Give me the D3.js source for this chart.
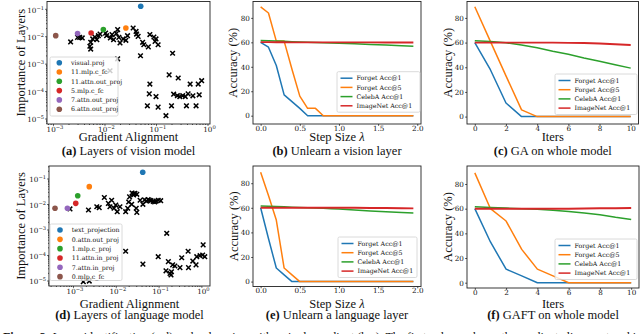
<!DOCTYPE html>
<html>
<head>
<meta charset="utf-8">
<script src="https://cdn.jsdelivr.net/npm/d3@7"></script>
<style>
body { margin: 0; background: #fff; }
svg { display: block; }
</style>
</head>
<body>
<svg width="640" height="334"></svg>
<script>
// ---- data ----
var visionLayers = ["visual.proj", "11.mlp.c_fc", "11.attn.out_proj", "5.mlp.c_fc", "7.attn.out_proj", "6.attn.out_proj"];
var visionTop = [[0.0505, 0.124], [0.026, 0.020], [0.0095, 0.0175], [0.0055, 0.0132], [0.003, 0.0125], [0.00113, 0.0105]];
var visionRest = [
	[2.2e-3, 6.2e-3], [3.0e-3, 9.1e-3], [3.3e-3, 9.1e-3], [3.7e-3, 8.7e-3], [5.4e-3, 6.0e-3], [5.2e-3, 4.3e-3],
	[5.4e-3, 3.4e-3], [5.9e-3, 8.0e-3], [6.5e-3, 9.4e-3], [7.1e-3, 7.5e-3], [7.6e-3, 1.05e-2], [8.2e-3, 1.2e-2],
	[1.05e-2, 1.3e-2], [1.1e-2, 1.05e-2], [1.3e-2, 8.7e-3], [1.4e-2, 1.15e-2], [1.5e-2, 7.5e-3], [1.7e-2, 1.25e-2],
	[1.8e-2, 1.75e-2], [1.9e-2, 9.1e-3], [2.0e-2, 5.7e-3], [2.3e-2, 8.0e-3], [2.6e-2, 7.1e-3], [2.8e-2, 1.05e-2],
	[3.6e-2, 2.0e-2], [4.1e-2, 1.5e-2], [4.2e-2, 1.2e-2], [4.5e-2, 9.9e-3], [5.5e-2, 6.0e-3], [5.8e-2, 4.9e-3],
	[7.1e-2, 4.1e-3], [7.6e-2, 1.15e-2], [9.1e-2, 9.4e-3], [0.1, 8.0e-3], [0.11, 4.9e-3], [9.6e-2, 6.5e-3],
	[1.8e-2, 1.5e-3], [5.0e-2, 1.95e-3], [0.21, 2.4e-3], [0.18, 3.9e-4], [0.27, 3.0e-4], [7.6e-2, 1.8e-4],
	[7.4e-2, 7.9e-5], [0.1, 6.3e-5], [6.8e-2, 2.9e-5], [0.11, 2.6e-5], [0.156, 1.27e-5], [0.2, 2.9e-5],
	[0.22, 7.7e-5], [0.26, 6.8e-5], [0.29, 6.3e-5], [0.33, 6.8e-5], [0.37, 6.3e-5], [0.42, 7.9e-5],
	[0.46, 1.8e-4], [0.39, 2.9e-5], [0.52, 6.7e-5], [0.6, 2.9e-5], [0.66, 1.8e-4], [0.69, 7.3e-5],
	[0.77, 2.4e-4], [1.28e-2, 5.5e-4]
];

var langLayers = ["text_projection", "0.attn.out_proj", "1.mlp.c_proj", "11.attn.in_proj", "7.attn.in_proj", "0.mlp.c_fc"];
var langTop = [[0.0426, 0.175], [2.4e-3, 0.048], [1.29e-3, 0.0211], [1.16e-3, 0.0106], [7.4e-4, 6.8e-3], [3.8e-4, 6.8e-3]];
var langRest = [
	[8.5e-4, 6.4e-3], [2.3e-3, 5.8e-3], [3.6e-3, 7.8e-3], [4.1e-3, 7.2e-3], [5.4e-3, 1.8e-2], [6.7e-3, 1.06e-2],
	[7.3e-3, 7.8e-3], [8.0e-3, 1.4e-2], [9.1e-3, 6.8e-3], [1.0e-2, 9.1e-3], [1.08e-2, 5.0e-3], [1.25e-2, 7.8e-3],
	[1.7e-2, 5.0e-3], [1.9e-2, 6.8e-3], [2.0e-2, 1.2e-2], [2.1e-2, 1.9e-2], [2.35e-2, 9.7e-3], [2.6e-2, 2.25e-2],
	[2.8e-2, 2.6e-2], [3.1e-2, 2.4e-2], [3.0e-2, 6.8e-3], [3.1e-2, 4.7e-3], [3.7e-2, 1.4e-2], [4.3e-2, 9.7e-3],
	[5.7e-2, 1.5e-2], [6.6e-2, 1.35e-2], [7.5e-2, 1.25e-2], [8.7e-2, 1.3e-2], [9.8e-2, 1.4e-2], [0.112, 1.35e-2],
	[5.2e-2, 1.3e-2], [6.1e-2, 1.4e-2], [8.1e-2, 1.2e-2], [4.7e-2, 1.45e-2], [2.4e-2, 2.7e-2], [2.65e-2, 2.5e-2],
	[0.155, 7.1e-4], [1.7e-2, 1.4e-4], [4.3e-2, 4.4e-5], [9.8e-2, 8.6e-5], [0.149, 2.4e-5], [0.169, 5.5e-5],
	[0.185, 1.9e-5], [0.213, 4.1e-5], [0.24, 3.7e-5], [0.316, 3.2e-5], [0.347, 7.8e-5], [0.49, 1.4e-4],
	[0.5, 3.2e-5], [0.63, 5.8e-5], [0.75, 4.1e-5], [0.78, 8.6e-5], [0.93, 9.4e-5], [1.07, 1.0e-4],
	[1.2, 8.6e-5], [1.1, 2.5e-4], [1.74e-3, 9.0e-6], [2.4e-3, 9.5e-6], [0.195, 1.64e-5], [0.2, 2.2e-5]
];

var seriesNames = ["Forget Acc@1", "Forget Acc@5", "CelebA Acc@1", "ImageNet Acc@1"];

var stepSizes = [0, 0.1, 0.2, 0.3, 0.4, 0.5, 0.6, 0.7, 0.8, 0.9, 1.0, 1.2, 1.4, 1.6, 1.8, 1.95];
var visionLayerAcc = [
	[60, 56, 41, 17, 11.5, 6, 0, 0, 0, 0, 0, 0, 0, 0, 0, 0],
	[89, 84, 61, 61, 38, 16, 6, 6, 0, 0, 0, 0, 0, 0, 0, 0],
	[61.5, 61.3, 61, 60.8, 60.5, 60.3, 60, 59.8, 59.6, 59.4, 59.2, 58.8, 58.3, 57.8, 57.2, 56.8],
	[60.2, 60.2, 60.1, 60.1, 60, 60, 60, 60, 60, 60, 60, 60, 60, 59.9, 59.9, 59.9]
];
var langLayerAcc = [
	[60, 35, 11, 5.5, 0, 0, 0, 0, 0, 0, 0, 0, 0, 0, 0, 0],
	[89, 70, 50, 11, 5.5, 0, 0, 0, 0, 0, 0, 0, 0, 0, 0, 0],
	[61.5, 61.3, 61, 60.8, 60.5, 60.2, 60, 59.8, 59.6, 59.3, 59, 58.2, 57.5, 56.8, 56.2, 55.8],
	[60, 60, 60, 60, 60, 60, 60, 60, 60, 60, 60, 60, 59.9, 59.8, 59.6, 59.5]
];

var iters = [0, 1, 2, 3, 4, 5, 6, 7, 8, 9, 10];
var gaAcc = [
	[60, 38, 11, 0, 0, 0, 0, 0, 0, 0, 0],
	[89, 61, 33, 5.5, 0, 0, 0, 0, 0, 0, 0],
	[61.5, 60.8, 59.8, 58, 55.8, 53, 50.5, 47.5, 44.8, 42, 39.3],
	[60, 60, 60, 60, 60, 60, 59.8, 59.6, 59.2, 58.6, 58]
];
var gaftAcc = [
	[60, 33, 11, 5.5, 0, 0, 0, 0, 0, 0, 0],
	[89, 60, 50, 27, 11, 5.5, 0, 0, 0, 0, 0],
	[61.5, 61, 60.5, 60, 59.5, 58.8, 57.8, 56.5, 55, 53, 51.3],
	[60, 60, 60, 60, 60, 60, 60, 60.2, 60.3, 60.4, 60.5]
];

var accTicks = [0, 20, 40, 60, 80];
var stepTicks = [0, 0.5, 1.0, 1.5, 2.0];
var iterTicks = [0, 2, 4, 6, 8, 10];
var logXTicks = [1e-3, 1e-2, 1e-1, 1e0];
var logYTicks = [1e-5, 1e-4, 1e-3, 1e-2, 1e-1];

// ---- drawing ----
var svg = d3.select("svg");
var tab10 = ["#1f77b4", "#ff7f0e", "#2ca02c", "#d62728", "#9467bd", "#8c564b"];
var times = "'Liberation Serif', 'Times New Roman', serif";
var dejavu = "'DejaVu Serif', serif";
var tickFs = 7.2, legFs = 6.3, labFs = 12.5;

function frame(g, b) {
	g.append("rect")
		.attr("x", b.x0).attr("y", b.y0)
		.attr("width", b.x1 - b.x0).attr("height", b.y1 - b.y0)
		.attr("fill", "none").attr("stroke", "#222").attr("stroke-width", 0.9);
}

function tidy(ax) {
	ax.select(".domain").remove();
	ax.selectAll(".tick line").attr("stroke", "#222").attr("stroke-width", 0.8);
	ax.selectAll(".tick text").attr("font-family", dejavu).attr("font-size", tickFs).attr("fill", "#111");
}

function minorTicks(dom) {
	var lo = Math.floor(Math.log10(dom[0])), hi = Math.ceil(Math.log10(dom[1])), out = [];
	for (var e = lo; e <= hi; e++)
		for (var m = 2; m <= 9; m++) {
			var v = m * Math.pow(10, e);
			if (v > dom[0] && v < dom[1]) out.push(v);
		}
	return out;
}

function powLabel(sel, v) {
	var e = Math.round(Math.log10(v));
	sel.text("10");
	sel.append("tspan").attr("font-size", tickFs * 0.72).attr("dy", -3)
		.text(e < 0 ? "\u2212" + (-e) : "" + e);
}

function labels(g, b, xlab, xlabY, ylab, ylabX, tag, capText, capY) {
	var cx = (b.x0 + b.x1) / 2;
	var xl = g.append("text").attr("x", cx).attr("y", xlabY).attr("text-anchor", "middle")
		.attr("font-family", times).attr("font-size", labFs).attr("fill", "#111");
	if (Array.isArray(xlab)) {
		xl.text(xlab[0]);
		xl.append("tspan").attr("font-style", "italic").text(xlab[1]);
	} else xl.text(xlab);

	g.append("text").attr("transform", "translate(" + ylabX + "," + ((b.y0 + b.y1) / 2) + ") rotate(-90)")
		.attr("text-anchor", "middle").attr("font-family", times).attr("font-size", labFs)
		.attr("fill", "#111").text(ylab);

	var cap = g.append("text").attr("x", cx).attr("y", capY).attr("text-anchor", "middle")
		.attr("font-family", times).attr("font-size", labFs).attr("fill", "#111");
	cap.append("tspan").attr("font-weight", "bold").text(tag);
	cap.append("tspan").text(" " + capText);
}

function scatterPanel(o) {
	var b = o.box, g = svg.append("g");
	var x = d3.scaleLog().domain(o.xDom).range([b.x0, b.x1]);
	var y = d3.scaleLog().domain(o.yDom).range([b.y1, b.y0]);

	// minor + major ticks
	var mx = g.append("g").attr("transform", "translate(0," + b.y1 + ")")
		.call(d3.axisBottom(x).tickValues(minorTicks(o.xDom)).tickSize(1).tickFormat(""));
	var my = g.append("g").attr("transform", "translate(" + b.x0 + ",0)")
		.call(d3.axisLeft(y).tickValues(minorTicks([o.yDom[0], o.yDom[1]])).tickSize(1).tickFormat(""));
	tidy(mx); tidy(my);
	var ax = g.append("g").attr("transform", "translate(0," + b.y1 + ")")
		.call(d3.axisBottom(x).tickValues(logXTicks).tickSize(1.8).tickFormat(""));
	var ay = g.append("g").attr("transform", "translate(" + b.x0 + ",0)")
		.call(d3.axisLeft(y).tickValues(logYTicks).tickSize(1.8).tickFormat(""));
	tidy(ax); tidy(ay);
	ax.selectAll(".tick").append("text").attr("y", 7.6).attr("x", 1.5).attr("text-anchor", "middle")
		.attr("font-family", dejavu).attr("font-size", tickFs).attr("fill", "#111")
		.each(function(d) { powLabel(d3.select(this), d); });
	ay.selectAll(".tick").append("text").attr("x", -3).attr("y", 3.3).attr("text-anchor", "end")
		.attr("font-family", dejavu).attr("font-size", tickFs).attr("fill", "#111")
		.each(function(d) { powLabel(d3.select(this), d); });

	g.append("g").selectAll("path").data(o.rest).enter().append("path")
		.attr("transform", function(d) { return "translate(" + x(d[0]) + "," + y(d[1]) + ")"; })
		.attr("d", "M-2.3,-2.3L2.3,2.3M-2.3,2.3L2.3,-2.3")
		.attr("stroke", "#000").attr("stroke-width", 1.5).attr("fill", "none");

	g.append("g").selectAll("circle").data(o.top).enter().append("circle")
		.attr("cx", function(d) { return x(d[0]); })
		.attr("cy", function(d) { return y(d[1]); })
		.attr("r", 2.8)
		.attr("fill", function(d, i) { return tab10[i]; });

	frame(g, b);

	var L = o.legend;
	g.append("rect").attr("x", L.x).attr("y", L.y).attr("width", L.w).attr("height", L.h)
		.attr("rx", 1.5).attr("fill", "#fff").attr("fill-opacity", 0.8)
		.attr("stroke", "#d0d0d0").attr("stroke-width", 0.8);
	var it = g.append("g").selectAll("g").data(o.names).enter().append("g")
		.attr("transform", function(d, i) { return "translate(" + L.x + "," + (L.y + L.first + i * L.step) + ")"; });
	it.append("circle").attr("cx", L.mark).attr("r", 2.8).attr("fill", function(d, i) { return tab10[i]; });
	it.append("text").attr("x", L.text).attr("y", 2.2)
		.attr("font-family", dejavu).attr("font-size", legFs).attr("fill", "#111")
		.text(function(d) { return d; });

	labels(g, b, "Gradient Alignment", o.xlabY, "Importance of Layers", o.ylabX, o.tag, o.caption, o.capY);
}

function linePanel(o) {
	var b = o.box, g = svg.append("g");
	var x = d3.scaleLinear().domain(o.xDom).range([b.x0, b.x1]);
	var y = d3.scaleLinear().domain(o.yDom).range([b.y1, b.y0]);

	var ax = g.append("g").attr("transform", "translate(0," + b.y1 + ")")
		.call(d3.axisBottom(x).tickValues(o.xTicks).tickFormat(o.xFmt).tickSize(1.8).tickPadding(1));
	var ay = g.append("g").attr("transform", "translate(" + b.x0 + ",0)")
		.call(d3.axisLeft(y).tickValues(accTicks).tickSize(1.8).tickPadding(1.4));
	tidy(ax); tidy(ay);
	ax.selectAll(".tick text").attr("y", 1.6).attr("dy", "0.71em");

	var line = d3.line()
		.x(function(d, i) { return x(o.xs[i]); })
		.y(function(d) { return y(d); });
	g.append("g").selectAll("path").data(o.series).enter().append("path")
		.attr("d", line)
		.attr("fill", "none")
		.attr("stroke", function(d, i) { return tab10[i]; })
		.attr("stroke-width", function(d, i) { return i === 3 ? 1.9 : 1.5; })
		.attr("stroke-linejoin", "round");

	frame(g, b);

	var L = o.legend;
	g.append("rect").attr("x", L.x).attr("y", L.y).attr("width", L.w).attr("height", 40.5)
		.attr("rx", 1.5).attr("fill", "#fff").attr("fill-opacity", 0.8)
		.attr("stroke", "#d0d0d0").attr("stroke-width", 0.8);
	var it = g.append("g").selectAll("g").data(seriesNames).enter().append("g")
		.attr("transform", function(d, i) { return "translate(" + L.x + "," + (L.y + 6.5 + i * 9.2) + ")"; });
	it.append("line").attr("x1", 3.5).attr("x2", 15.5)
		.attr("stroke", function(d, i) { return tab10[i]; }).attr("stroke-width", 1.5);
	it.append("text").attr("x", 19.5).attr("y", 2.2)
		.attr("font-family", dejavu).attr("font-size", legFs).attr("fill", "#111")
		.text(function(d) { return d; });

	labels(g, b, o.xlab, o.xlabY, "Accuracy (%)", o.ylabX, o.tag, o.caption, o.capY);
}

scatterPanel({
	box: {x0: 47, x1: 210, y0: 1.5, y1: 124},
	xDom: [7.65e-4, 1.118], yDom: [6.3e-6, 0.185],
	top: visionTop, rest: visionRest, names: visionLayers,
	legend: {x: 50, y: 57, w: 68, h: 59, first: 5.7, step: 9.3, mark: 9.3, text: 21},
	xlabY: 141, ylabX: 24.5, tag: "(a)", caption: "Layers of vision model", capY: 155
});
scatterPanel({
	box: {x0: 49, x1: 210, y0: 166, y1: 286},
	xDom: [2.75e-4, 1.59], yDom: [6.1e-6, 0.309],
	top: langTop, rest: langRest, names: langLayers,
	legend: {x: 50, y: 224, w: 72, h: 56.5, first: 6, step: 9.33, mark: 10, text: 21.7},
	xlabY: 307.5, ylabX: 24.5, tag: "(d)", caption: "Layers of language model", capY: 319.3
});

linePanel({
	box: {x0: 253, x1: 421, y0: 1.5, y1: 124},
	xs: stepSizes, series: visionLayerAcc, xDom: [-0.0975, 2.0475], yDom: [-6.8, 93.4],
	xTicks: stepTicks, xFmt: d3.format(".1f"),
	legend: {x: 337, y: 71.7, w: 83},
	xlab: ["Step Size ", "\u03bb"], xlabY: 141, ylabX: 237.3,
	tag: "(b)", caption: "Unlearn a vision layer", capY: 155
});
linePanel({
	box: {x0: 467, x1: 638.5, y0: 1.5, y1: 124},
	xs: iters, series: gaAcc, xDom: [-0.5, 10.5], yDom: [-6, 93.3],
	xTicks: iterTicks, xFmt: d3.format("d"),
	legend: {x: 555, y: 74, w: 82},
	xlab: "Iters", xlabY: 141, ylabX: 452.3,
	tag: "(c)", caption: "GA on whole model", capY: 155
});
linePanel({
	box: {x0: 253, x1: 421, y0: 166, y1: 286.5},
	xs: stepSizes, series: langLayerAcc, xDom: [-0.0975, 2.0475], yDom: [-4, 94],
	xTicks: stepTicks, xFmt: d3.format(".1f"),
	legend: {x: 338, y: 237, w: 79},
	xlab: ["Step Size ", "\u03bb"], xlabY: 307.5, ylabX: 238,
	tag: "(e)", caption: "Unlearn a language layer", capY: 319.3
});
linePanel({
	box: {x0: 467, x1: 639, y0: 166, y1: 288},
	xs: iters, series: gaftAcc, xDom: [-0.5, 10.5], yDom: [-4.3, 94.6],
	xTicks: iterTicks, xFmt: d3.format("d"),
	legend: {x: 555, y: 239, w: 82},
	xlab: "Iters", xlabY: 307.5, ylabX: 452,
	tag: "(f)", caption: "GAFT on whole model", capY: 319.3
});

// figure caption, cut off by the bottom edge
var fig = svg.append("text").attr("x", 3).attr("y", 340.5)
	.attr("font-family", times).attr("font-size", 12).attr("fill", "#111");
fig.append("tspan").attr("font-weight", "bold").text("Figure 2:");
fig.append("tspan").text(" Layer identification (a,d) and unlearning with a single gradient (b,e). The first column shows the gradient alignment and importance of each layer");
</script>
</body>
</html>
